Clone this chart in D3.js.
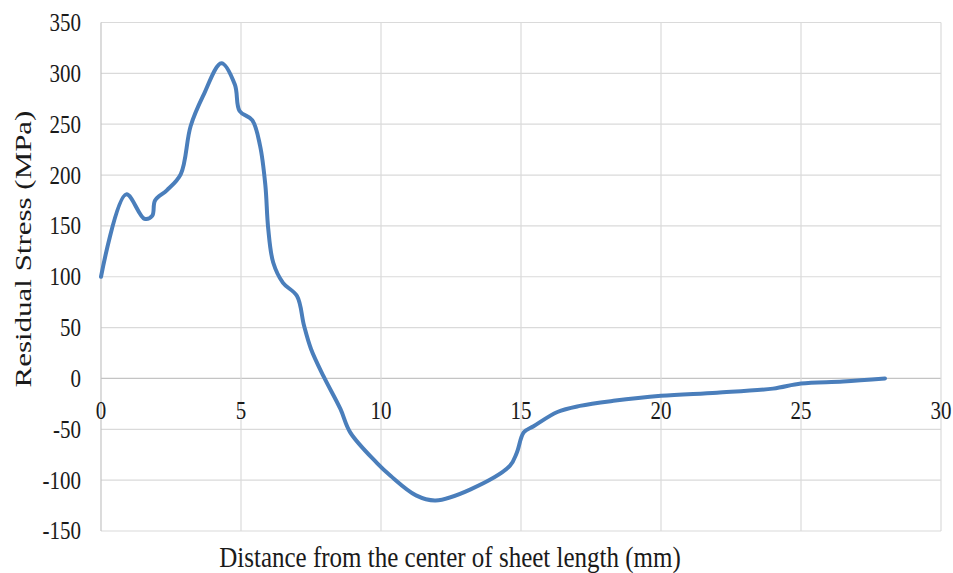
<!DOCTYPE html>
<html>
<head>
<meta charset="utf-8">
<script src="https://cdn.jsdelivr.net/npm/d3@7"></script>
<style>
  body { margin: 0; background: #fff; }
  text { font-family: "Liberation Serif", "Times New Roman", serif; fill: #1a1a1a; }
</style>
</head>
<body>
<svg id="chart" width="953" height="573"></svg>
<script>
// distance from center (mm)
const distance = [0, 0.9, 1.55, 1.83, 1.93, 2.35, 2.85, 3.2, 3.65, 4.3, 4.78, 4.95, 5.4, 5.68, 5.87, 5.97,
    6.15, 6.5, 7.0, 7.25, 7.5, 7.95, 8.55, 8.9, 9.85, 10.35, 11.25, 11.95, 13.2, 14.6, 14.85, 15.1,
    15.45, 16.3, 17.1, 18.3, 20, 22, 24, 25, 26.5, 28];
// residual stress (MPa)
const stress = [100, 181, 157, 160, 175, 185, 201, 248, 278, 310, 289, 263, 254, 229, 190, 148,
    114, 94, 81, 52, 29, 2, -30, -53, -83, -96, -115, -120, -109, -86, -73, -53,
    -47, -33, -27, -22, -17, -14, -10, -5, -3, 0];

const xTicks = [0, 5, 10, 15, 20, 25, 30];
const yTicks = [-150, -100, -50, 0, 50, 100, 150, 200, 250, 300, 350];

const svg = d3.select("#chart");

const x = d3.scaleLinear().domain([0, 30]).range([101, 941]);
const y = d3.scaleLinear().domain([-150, 350]).range([531, 22.5]);

// gridlines
svg.append("g")
    .selectAll("line")
    .data(yTicks)
    .enter().append("line")
    .attr("x1", x(0)).attr("x2", x(30))
    .attr("y1", d => y(d)).attr("y2", d => y(d))
    .attr("stroke", d => d === 0 ? "#c4c4c4" : "#dadada")
    .attr("stroke-width", 1.2);

svg.append("g")
    .selectAll("line")
    .data(xTicks)
    .enter().append("line")
    .attr("x1", d => x(d)).attr("x2", d => x(d))
    .attr("y1", y(350)).attr("y2", y(-150))
    .attr("stroke", d => d === 0 ? "#c4c4c4" : "#dadada")
    .attr("stroke-width", 1.2);

// tick labels are a bit taller than plain Times in the picture
const stretch = 1.15;

// y axis labels
svg.append("g")
    .selectAll("text")
    .data(yTicks)
    .enter().append("text")
    .attr("text-anchor", "end")
    .attr("transform", d => `translate(81,${y(d)}) scale(1,${stretch})`)
    .attr("dy", "0.35em")
    .style("font-size", "21px")
    .text(d => String(d));

// x axis labels, sitting under the zero line
svg.append("g")
    .selectAll("text")
    .data(xTicks)
    .enter().append("text")
    .attr("text-anchor", "middle")
    .attr("transform", d => `translate(${x(d)},${y(0) + 32}) scale(1,${stretch})`)
    .attr("dy", "0.35em")
    .style("font-size", "21px")
    .text(d => String(d));

// the curve
const points = distance.map((d, i) => [d, stress[i]]);
const line = d3.line()
    .x(d => x(d[0]))
    .y(d => y(d[1]))
    .curve(d3.curveCatmullRom.alpha(0.5));

svg.append("path")
    .datum(points)
    .attr("d", line)
    .attr("fill", "none")
    .attr("stroke", "#4a7ebb")
    .attr("stroke-width", 4)
    .attr("stroke-linejoin", "round")
    .attr("stroke-linecap", "round");

// axis titles
svg.append("text")
    .attr("transform", `translate(23,${(110 + 388) / 2}) rotate(-90) scale(1.29,1)`)
    .attr("text-anchor", "middle")
    .attr("dy", "0.35em")
    .style("font-size", "24px")
    .text("Residual Stress (MPa)");

svg.append("text")
    .attr("transform", "translate(450,567) scale(1,1.2)")
    .attr("text-anchor", "middle")
    .style("font-size", "25px")
    .text("Distance from the center of sheet length (mm)");
</script>
</body>
</html>
